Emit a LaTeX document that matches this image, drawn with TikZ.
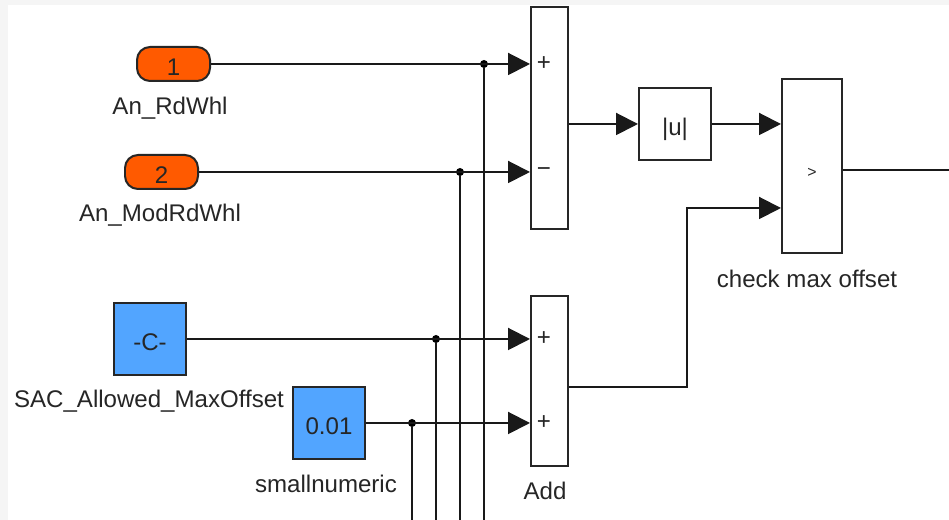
\documentclass[tikz,border=0pt]{standalone}
\usepackage{fontspec}
\setmainfont{Liberation Sans}
\usetikzlibrary{arrows.meta,positioning,calc}

\definecolor{portorange}{HTML}{FF5A00}
\definecolor{constblue}{HTML}{52A5FF}
\definecolor{pagegray}{HTML}{F5F5F5}

\begin{document}
\begin{tikzpicture}[
  >={Triangle[length=0.44cm,width=0.44cm]},
  every node/.style={font=\fontsize{13.7}{16}\selectfont, text=black!85},
  block/.style={draw=black!85, line width=0.04cm, inner sep=0pt, text height=0.46cm, text depth=0pt},
  port/.style={block, fill=portorange, rounded corners=0.26cm, minimum width=1.46cm, minimum height=0.68cm},
  const/.style={block, fill=constblue, minimum width=1.44cm, minimum height=1.44cm},
  tall/.style={block, fill=white, minimum width=0.74cm},
  wire/.style={draw=black!90, line width=0.04cm},
  dot/.style={circle, fill=black, inner sep=0pt, minimum size=0.16cm},
  sign/.style={inner sep=0pt}
]
  \useasboundingbox (0,0) rectangle (18.98,10.4);
  \fill[pagegray] (0,0) rectangle (18.98,10.4);
  \fill[white] (0.16,0) rectangle (18.98,10.3);

  % sources
  \node[port] (rdwhl) at (3.47,9.12) {1};
  \node[port] (modrdwhl) at (3.23,6.96) {2};
  \node[const] (maxoffset) at (3.0,3.62) {-C-};
  \node[const] (smallnum) at (6.58,1.94) {0.01};

  % blocks
  \node[tall, minimum height=4.44cm] (diff) at (10.99,8.04) {};
  \node[tall, minimum height=3.40cm] (add) at (10.99,2.78) {};
  \node[block, fill=white, minimum width=1.44cm, minimum height=1.44cm] (absval) at (13.5,7.92) {|u|};
  \node[block, fill=white, minimum width=1.2cm, minimum height=3.48cm] (compare) at (16.24,7.08) {\small >};

  % signs
  \node[sign] (sgna) at (10.88,9.12) {+};
  \node[sign] (sgnb) at (10.88,6.96) {−};
  \node[sign] (sgnc) at (10.88,3.62) {+};
  \node[sign] (sgnd) at (10.88,1.94) {+};

  % labels
  \node (lblrdwhl) at (3.4,8.24) {An\_RdWhl};
  \node (lblmodrdwhl) at (3.2,6.1) {An\_ModRdWhl};
  \node (lblmaxoffset) at (2.98,2.38) {SAC\_Allowed\_MaxOffset};
  \node (lblsmallnum) at (6.52,0.72) {smallnumeric};
  \node (lbladd) at (10.9,0.58) {Add};
  \node (lblcompare) at (16.14,4.82) {check max offset};

  % junctions
  \node[dot] (jrdwhl) at (9.68,9.12) {};
  \node[dot] (jmodrdwhl) at (9.2,6.96) {};
  \node[dot] (jmaxoffset) at (8.72,3.62) {};
  \node[dot] (jsmallnum) at (8.24,1.94) {};

  % free ends
  \coordinate (endrdwhl) at (9.68,0);
  \coordinate (endmodrdwhl) at (9.2,0);
  \coordinate (endmaxoffset) at (8.72,0);
  \coordinate (endsmallnum) at (8.24,0);
  \coordinate (endcompare) at (18.98,7.0);
  \coordinate (bend) at (13.74,6.24);

  % wires
  \draw[wire, ->] (rdwhl.east) -- (diff.west |- rdwhl.east);
  \draw[wire, ->] (modrdwhl.east) -- (diff.west |- modrdwhl.east);
  \draw[wire, ->] (maxoffset.east) -- (add.west |- maxoffset.east);
  \draw[wire, ->] (smallnum.east) -- (add.west |- smallnum.east);
  \draw[wire] (jrdwhl) -- (endrdwhl);
  \draw[wire] (jmodrdwhl) -- (endmodrdwhl);
  \draw[wire] (jmaxoffset) -- (endmaxoffset);
  \draw[wire] (jsmallnum) -- (endsmallnum);
  \draw[wire, ->] (diff.east |- absval.west) -- (absval.west);
  \draw[wire, ->] (absval.east) -- (compare.west |- absval.east);
  \draw[wire, ->] (add.east |- 0,2.66) -| (bend) -- (compare.west |- bend);
  \draw[wire] (compare.east |- endcompare) -- (endcompare);
\end{tikzpicture}
\end{document}
